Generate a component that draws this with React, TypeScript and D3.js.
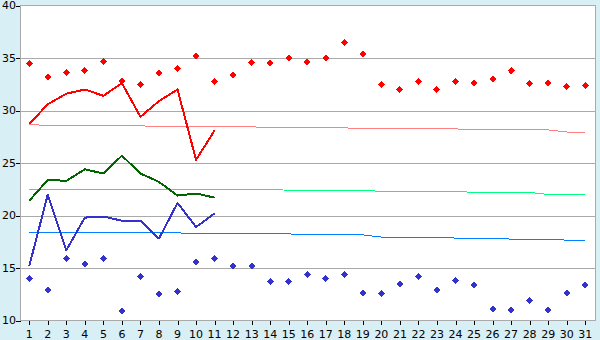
import React from "react";
import * as d3 from "d3";

const days = d3.range(1, 32);
const yTicks = [10, 15, 20, 25, 30, 35, 40];

// observed max temps (diamonds)
const maxPoints = [34.5, 33.2, 33.6, 33.8, 34.7, 32.8, 32.5, 33.6, 34.0, 35.2, 32.8, 33.4, 34.6, 34.5, 35.0, 34.6, 35.0, 36.5, 35.4, 32.5, 32.0, 32.8, 32.0, 32.8, 32.6, 33.0, 33.8, 32.6, 32.6, 32.3, 32.4];
// observed min temps (diamonds)
const minPoints = [14.0, 12.9, 15.9, 15.4, 15.9, 10.9, 14.2, 12.5, 12.8, 15.6, 15.9, 15.2, 15.2, 13.7, 13.7, 14.4, 14.0, 14.4, 12.6, 12.6, 13.5, 14.2, 12.9, 13.8, 13.4, 11.1, 11.0, 11.9, 11.0, 12.6, 13.4];
// current-year lines (days 1..11)
const maxLine = [28.7, 30.6, 31.6, 32.0, 31.4, 32.6, 29.4, 30.9, 32.0, 25.3, 28.1];
const meanLine = [21.4, 23.4, 23.3, 24.4, 24.0, 25.7, 24.0, 23.2, 21.9, 22.1, 21.7];
const minLine = [15.2, 22.0, 16.7, 19.8, 19.9, 19.5, 19.5, 17.8, 21.2, 18.9, 20.2];
// normals
const normalMax = [28.7, 28.55, 28.55, 28.55, 28.55, 28.55, 28.55, 28.45, 28.45, 28.45, 28.45, 28.45, 28.45, 28.35, 28.35, 28.35, 28.35, 28.35, 28.25, 28.25, 28.25, 28.25, 28.25, 28.25, 28.15, 28.15, 28.15, 28.15, 28.15, 27.95, 27.95];
const normalMean = [22.5, 22.5, 22.5, 22.5, 22.5, 22.5, 22.5, 22.5, 22.5, 22.5, 22.5, 22.5, 22.5, 22.5, 22.4, 22.4, 22.4, 22.4, 22.4, 22.3, 22.3, 22.3, 22.3, 22.3, 22.2, 22.2, 22.2, 22.2, 22.0, 22.0, 22.0];
const normalMin = [18.35, 18.35, 18.35, 18.35, 18.35, 18.35, 18.35, 18.35, 18.35, 18.25, 18.25, 18.25, 18.25, 18.25, 18.25, 18.15, 18.15, 18.15, 18.15, 17.95, 17.95, 17.95, 17.95, 17.85, 17.85, 17.85, 17.75, 17.75, 17.75, 17.65, 17.65];

const W = 600;
const H = 340;
const L = 20.5, R = 595.5, T = 5.5, B = 320.5;

export default function App() {
  const x = d3.scalePoint<number>().domain(days).range([20, 594.5]).padding(0.5);
  const y = d3.scaleLinear().domain([10, 40]).range([B, T]);
  const line = d3
    .line<number>()
    .x((_, i) => x(days[i]) as number)
    .y((d) => y(d));
  const diamond = (cx: number, cy: number) =>
    `M${cx},${cy - 3.5}L${cx + 3.5},${cy}L${cx},${cy + 3.5}L${cx - 3.5},${cy}Z`;
  const font = "DejaVu Sans, Verdana, sans-serif";
  return (
    <svg width={W} height={H} style={{ position: "absolute", left: 0, top: 0, display: "block" }}>
      <rect x={0} y={0} width={W} height={H} fill="#d9eff6" />
      <rect x={L} y={T} width={R - L} height={B - T} fill="#ffffff" />
      {yTicks.map((t) => (
        <g key={t}>
          {t > 10 && t < 40 && (
            <line x1={L} x2={R} y1={Math.round(y(t)) + 0.5} y2={Math.round(y(t)) + 0.5} stroke="#aaaaaa" strokeWidth={1} shapeRendering="crispEdges" />
          )}
          <line x1={16} x2={L} y1={Math.round(y(t)) + 0.5} y2={Math.round(y(t)) + 0.5} stroke="#000" strokeWidth={1} shapeRendering="crispEdges" />
          <text x={16} y={y(t)} dy="0.36em" textAnchor="end" fontFamily={font} fontSize={11} fill="#000">
            {t}
          </text>
        </g>
      ))}
      {days.map((d) => (
        <g key={d}>
          <line x1={Math.round(x(d) as number) + 0.5} x2={Math.round(x(d) as number) + 0.5} y1={B} y2={B + 4.5} stroke="#000" strokeWidth={1} shapeRendering="crispEdges" />
          <text x={x(d)} y={337.5} textAnchor="middle" fontFamily={font} fontSize={11} fill="#000">
            {d}
          </text>
        </g>
      ))}
      <rect x={L} y={T} width={R - L} height={B - T} fill="none" stroke="#aaaaaa" strokeWidth={1} shapeRendering="crispEdges" />
      <path d={line(normalMax) || ""} fill="none" stroke="#ff8080" strokeWidth={1} shapeRendering="crispEdges" />
      <path d={line(normalMean) || ""} fill="none" stroke="#00ff80" strokeWidth={1} shapeRendering="crispEdges" />
      <path d={line(normalMin) || ""} fill="none" stroke="#0080ff" strokeWidth={1} shapeRendering="crispEdges" />
      <path d={line(maxLine) || ""} fill="none" stroke="#ff0000" strokeWidth={2} strokeLinejoin="round" shapeRendering="crispEdges" />
      <path d={line(meanLine) || ""} fill="none" stroke="#006400" strokeWidth={2} strokeLinejoin="round" shapeRendering="crispEdges" />
      <path d={line(minLine) || ""} fill="none" stroke="#3333cc" strokeWidth={2} strokeLinejoin="round" shapeRendering="crispEdges" />
      {maxPoints.map((v, i) => (
        <path key={"mx" + i} d={diamond(x(days[i]) as number, y(v))} fill="#ff0000" shapeRendering="crispEdges" />
      ))}
      {minPoints.map((v, i) => (
        <path key={"mn" + i} d={diamond(x(days[i]) as number, y(v))} fill="#3333cc" shapeRendering="crispEdges" />
      ))}
    </svg>
  );
}
